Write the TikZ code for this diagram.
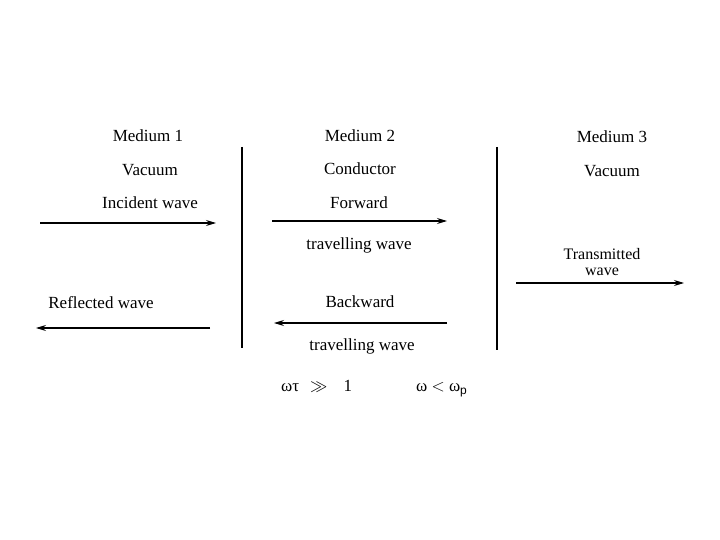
\documentclass[tikz,border=0pt]{standalone}
\usepackage{fontspec}
\setmainfont{Liberation Serif}
\newfontfamily\sansf{Liberation Sans}
\usetikzlibrary{arrows.meta}
\begin{document}
\begin{tikzpicture}[x=1pt,y=-1pt,
  lbl/.style={font=\fontsize{17}{19}\selectfont, inner sep=0pt},
  small/.style={font=\fontsize{16}{17}\selectfont, inner sep=0pt},
  wave/.style={-{Stealth[length=10pt,width=6pt]}, line width=1.1pt},
  wall/.style={line width=1.2pt}]
\useasboundingbox[fill=white] (0,0) rectangle (720,540);
% Medium 1
\node[lbl] (m1) at (148,136) {Medium 1};
\node[lbl] (v1) at (150,170) {Vacuum};
\node[lbl] (inc) at (150,203) {Incident wave};
\coordinate (i0) at (40,223); \coordinate (i1) at (216,223);
\draw[wave] (i0) -- (i1);
\node[lbl] (refl) at (101,303) {Reflected wave};
\coordinate (r0) at (210,328); \coordinate (r1) at (36,328);
\draw[wave] (r0) -- (r1);
% boundaries
\coordinate (w1a) at (242,147); \coordinate (w1b) at (242,348);
\draw[wall] (w1a) -- (w1b);
\coordinate (w2a) at (497,147); \coordinate (w2b) at (497,350);
\draw[wall] (w2a) -- (w2b);
% Medium 2
\node[lbl] (m2) at (360,136) {Medium 2};
\node[lbl] (c2) at (360,169) {Conductor};
\node[lbl] (fw) at (359,203) {Forward};
\coordinate (f0) at (272,221); \coordinate (f1) at (447,221);
\draw[wave] (f0) -- (f1);
\node[lbl] (tw1) at (359,245) {travelling wave};
\node[lbl] (bw) at (360,302) {Backward};
\coordinate (b0) at (447,323); \coordinate (b1) at (274,323);
\draw[wave] (b0) -- (b1);
\node[lbl] (tw2) at (362,346) {travelling wave};
% Medium 3
\node[lbl] (m3) at (612,137) {Medium 3};
\node[lbl] (v3) at (612,171) {Vacuum};
\node[small] (tr) at (602,254) {Transmitted};
\node[small] (trw) at (602,272) {wave};
\coordinate (t0) at (516,283); \coordinate (t1) at (684,283);
\draw[wave] (t0) -- (t1);
% conditions
\node[lbl, anchor=base west] (c1) at (281,391) {ωτ\hspace{11pt}$\gg$\hspace{16pt}1};
\node[lbl, anchor=base west] (c2b) at (416,391) {ω $<$ ω\raisebox{-3pt}{\sansf\fontsize{12}{14}\selectfont p}};
\end{tikzpicture}
\end{document}
